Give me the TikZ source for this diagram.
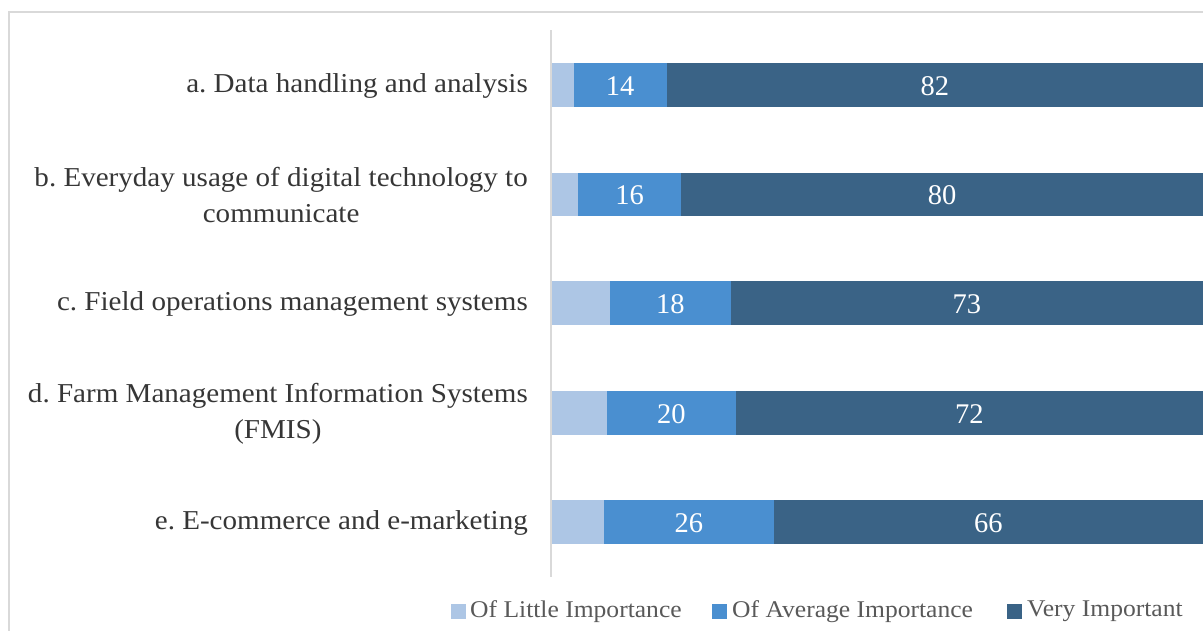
\documentclass[tikz,border=0pt]{standalone}
\usepackage{fontspec}
\setmainfont{Liberation Serif}
\newfontfamily\labfont[FakeStretch=1.065]{Liberation Serif}
\definecolor{lowc}{HTML}{ADC6E5}
\definecolor{midc}{HTML}{4A8FD0}
\definecolor{highc}{HTML}{3A6386}
\definecolor{gridc}{HTML}{D9D9D9}
\definecolor{labc}{HTML}{363636}
\definecolor{legc}{HTML}{595959}
\frenchspacing
\begin{document}
\begin{tikzpicture}[x=1pt,y=-1pt,
  catlab/.style={anchor=east,align=center,text=labc,inner sep=0pt,
    font=\labfont\fontsize{27.3}{36}\selectfont},
  numlab/.style={text=white,inner sep=0pt,font=\fontsize{28.5}{30}\selectfont},
  legbox/.style={minimum size=15pt,inner sep=0pt,anchor=west},
  legtext/.style={anchor=west,inner sep=0pt,text=legc,font=\labfont\fontsize{24}{26}\selectfont}]
\useasboundingbox (0,0) rectangle (1203,630);
\fill[white] (0,0) rectangle (1203,630);
\draw[gridc,line width=2pt] (9,631) -- (9,12) -- (1204,12);
\draw[gridc,line width=2pt] (551,30) -- (551,577);
\foreach \n/\c/\xa/\xb/\m/\h in {a/85/573.5/666.5/14/82, b/194.5/578/681/16/80, c/303/610/730.5/18/73, d/413/607/735.5/20/72, e/522/604/773.5/26/66} {
  \fill[lowc] (552,\c-21.75) rectangle (\xa,\c+21.75);
  \fill[midc] (\xa,\c-21.75) rectangle (\xb,\c+21.75);
  \fill[highc] (\xb,\c-21.75) rectangle (1203,\c+21.75);
  \node[numlab] (m\n) at ({(\xa+\xb)/2},\c+1) {\m};
  \node[numlab] (h\n) at ({(\xb+1203)/2},\c+1) {\h};
}
\node[catlab] (la) at (528,86) {a. Data handling and analysis};
\node[catlab] (lb) at (528,195.5) {b. Everyday usage of digital technology to\\communicate};
\node[catlab] (lc) at (528,304) {c. Field operations management systems};
\node[catlab] (ld) at (528,414) {d. Farm Management Information Systems\\(FMIS)};
\node[catlab] (le) at (528,523) {e. E-commerce and e-marketing};
\node[legbox,fill=lowc] (k1) at (451,611.5) {};
\node[legtext] (t1) at (470,611.5) {Of Little Importance};
\node[legbox,fill=midc] (k2) at (712,611.5) {};
\node[legtext] (t2) at (732,611.5) {Of Average Importance};
\node[legbox,fill=highc] (k3) at (1007,611.5) {};
\node[legtext] (t3) at (1027,611.5) {Very Important};
\end{tikzpicture}
\end{document}
